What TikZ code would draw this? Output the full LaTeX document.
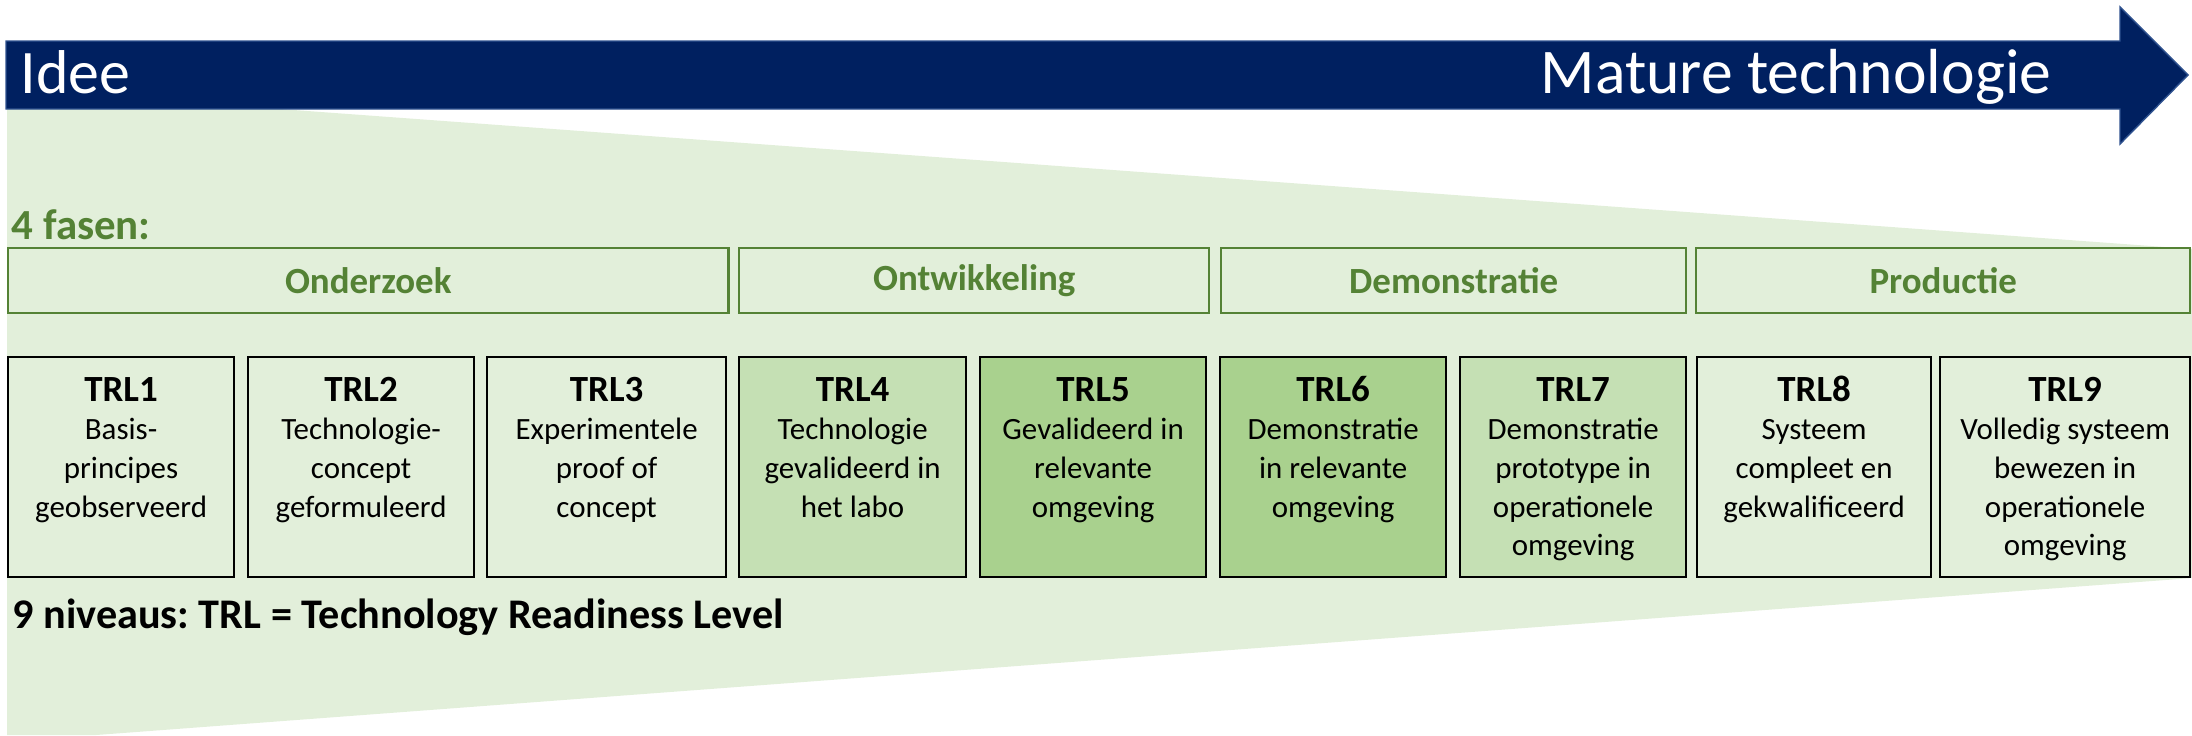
\documentclass[tikz,border=0pt]{standalone}
\usepackage{fontspec}
\setmainfont{Carlito}
\frenchspacing
\definecolor{navy}{HTML}{002060}
\definecolor{navyline}{HTML}{2F528F}
\definecolor{pale}{HTML}{E2EFDA}
\definecolor{mid}{HTML}{C5E0B4}
\definecolor{deep}{HTML}{A9D18E}
\definecolor{fase}{HTML}{548235}
\newcommand{\trltext}[3]{\parbox[t][62.6pt][t]{#1}{\centering\rule{0pt}{12.5pt}{\fontsize{10.5}{11}\selectfont\bfseries #2}\\#3}}

\begin{document}
\begin{tikzpicture}[x=0.01cm, y=-0.01cm,
	fasebox/.style={draw=fase, fill=pale, line width=0.6pt, minimum height=0.65cm, inner sep=0pt, anchor=north west, text=fase, font=\fontsize{10.5}{12}\selectfont\bfseries},
	trl/.style={draw=black, line width=0.6pt, inner sep=0pt, anchor=north west, font=\fontsize{8.8}{11}\selectfont}]
\useasboundingbox (0,0) rectangle (2192,735);

\fill [pale] (7,89) -- (2192,249) -- (2192,578) -- (96,735) -- (7,735) -- cycle;
\draw [navyline, fill=navy, line width=0.4pt] (6,41) -- (2120,41) -- (2120,7) -- (2188,75) -- (2120,144) -- (2120,109) -- (6,109) -- cycle;
\node [anchor=base west, inner sep=0pt, text=white, font=\fontsize{17.6}{20}\selectfont] (idee) at (20,93) {Idee};
\node [anchor=base east, inner sep=0pt, text=white, font=\fontsize{18.1}{20}\selectfont] (mature) at (2052,93) {Mature technologie};

\node [anchor=base west, inner sep=0pt, text=fase, font=\fontsize{12.2}{14}\selectfont\bfseries] (fasen) at (11,239) {4 fasen:};
	\node [fasebox, minimum width=7.20cm] (onderzoek) at (7,247) {Onderzoek};
	\node [fasebox, minimum width=4.70cm] (ontwikkeling) at (738,247) {Ontwikkeling};
	\node [fasebox, minimum width=4.65cm] (demonstratie) at (1220,247) {Demonstratie};
	\node [fasebox, minimum width=4.94cm] (productie) at (1695,247) {Productie};

	\node [trl, fill=pale] (trl1) at (7,356) {\trltext{2.26cm}{TRL1}{Basis-\\principes\\geobserveerd}};
	\node [trl, fill=pale] (trl2) at (247,356) {\trltext{2.26cm}{TRL2}{Technologie-\\concept\\geformuleerd}};
	\node [trl, fill=pale] (trl3) at (486,356) {\trltext{2.39cm}{TRL3}{Experimentele\\proof of\\concept}};
	\node [trl, fill=mid] (trl4) at (738,356) {\trltext{2.27cm}{TRL4}{Technologie\\gevalideerd in\\het labo}};
	\node [trl, fill=deep] (trl5) at (979,356) {\trltext{2.26cm}{TRL5}{Gevalideerd in\\relevante\\omgeving}};
	\node [trl, fill=deep] (trl6) at (1219,356) {\trltext{2.26cm}{TRL6}{Demonstratie\\in relevante\\omgeving}};
	\node [trl, fill=mid] (trl7) at (1459,356) {\trltext{2.26cm}{TRL7}{Demonstratie\\prototype in\\operationele\\omgeving}};
	\node [trl, fill=pale] (trl8) at (1696,356) {\trltext{2.34cm}{TRL8}{Systeem\\compleet en\\gekwalificeerd}};
	\node [trl, fill=pale] (trl9) at (1939,356) {\trltext{2.50cm}{TRL9}{Volledig systeem\\bewezen in\\operationele\\omgeving}};

\node [anchor=base west, inner sep=0pt, font=\fontsize{12}{14}\selectfont\bfseries] (niveaus) at (12,628) {9 niveaus: TRL = Technology Readiness Level};

\end{tikzpicture}
\end{document}
